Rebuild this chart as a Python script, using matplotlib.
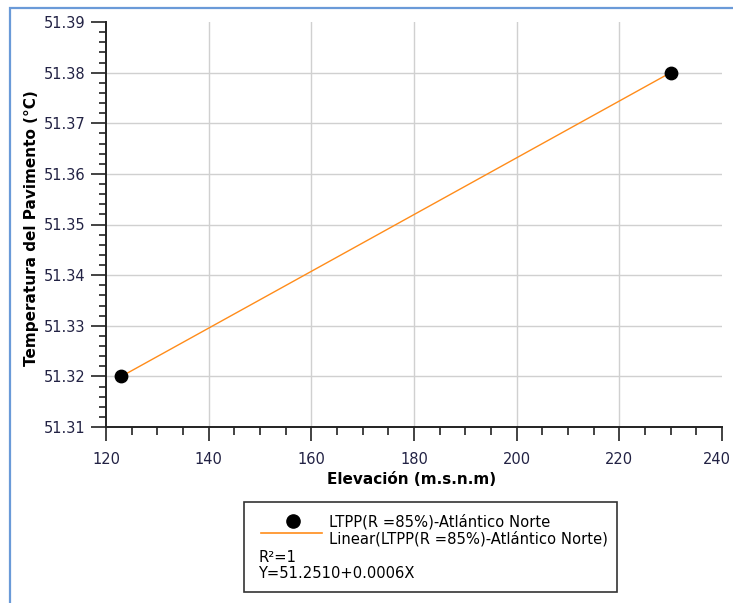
import matplotlib
matplotlib.use("Agg")
import matplotlib.pyplot as plt
import matplotlib.transforms as mtransforms
from matplotlib.patches import Rectangle
from matplotlib.lines import Line2D
from matplotlib.ticker import MultipleLocator

# datos
elevacion = [123, 230]
temperatura = [51.32, 51.38]
serie = "LTPP(R =85%)-Atlántico Norte"
ajuste = "Linear(LTPP(R =85%)-Atlántico Norte)"
r2_txt = "R²=1"
ecuacion = "Y=51.2510+0.0006X"

plt.rcParams['font.family'] = ['DejaVu Sans']

fig = plt.figure(figsize=(7.33, 6.03), dpi=100)
W, H = 733, 603

def fx(px):
    return px / W

def fy(py):
    return 1 - py / H

# borde azul del marco
fig.patches.append(Rectangle((fx(10), -0.1), 1.2, fy(8) + 0.1, transform=fig.transFigure,
                             fill=False, edgecolor='#6a9ad8', linewidth=1.6))

ax = fig.add_axes([fx(106), fy(427), fx(722) - fx(106), fy(22) - fy(427)])

ax.plot(elevacion, temperatura, color='#ff8c1a', linewidth=1.0, zorder=3)
ax.scatter(elevacion, temperatura, s=80, color='black', zorder=4)

ax.set_xlim(120, 240)
ax.set_ylim(51.31, 51.39)
ax.xaxis.set_major_locator(MultipleLocator(20))
ax.xaxis.set_minor_locator(MultipleLocator(5))
ax.yaxis.set_major_locator(MultipleLocator(0.01))
ax.yaxis.set_minor_locator(MultipleLocator(0.002))
ax.yaxis.set_major_formatter(plt.FuncFormatter(lambda v, p: f"{v:.2f}"))

ax.spines['top'].set_visible(False)
ax.spines['right'].set_visible(False)
for s in ['left', 'bottom']:
    ax.spines[s].set_linewidth(1.4)
    ax.spines[s].set_color('#222222')

ax.tick_params(axis='y', which='major', length=11, width=1.2, pad=4, labelsize=10.5,
               color='#222222', labelcolor='#222244')
ax.tick_params(axis='y', which='minor', length=5, width=1.2, color='#222222')
ax.tick_params(axis='x', which='major', length=10, width=1.2, pad=8, labelsize=10.5,
               color='#222222', labelcolor='#222244')
ax.tick_params(axis='x', which='minor', length=6, width=1.2, color='#222222')

ax.grid(True, which='major', color='#d0d0d0', linewidth=1.0)
ax.set_axisbelow(True)
fig.canvas.draw()
for t in ax.xaxis.get_major_ticks():
    if t.get_loc() <= 120 or t.get_loc() >= 240:
        t.gridline.set_visible(False)
    if t.get_loc() >= 240:
        # que el 240 no quede cortado en el borde
        lbl = t.label1
        lbl.set_transform(lbl.get_transform() +
                          mtransforms.ScaledTranslation(-5 / 100, 0, fig.dpi_scale_trans))
for t in ax.yaxis.get_major_ticks():
    if t.get_loc() <= 51.3101 or t.get_loc() >= 51.3899:
        t.gridline.set_visible(False)

fig.text(fx(412), fy(480), "Elevación (m.s.n.m)", ha='center', va='center',
         fontsize=11, fontweight='bold')
fig.text(fx(32), fy(228), "Temperatura del Pavimento (°C)", ha='center', va='center',
         rotation=90, fontsize=11, fontweight='bold')

# leyenda dibujada a mano
fig.patches.append(Rectangle((fx(244), fy(592)), fx(617) - fx(244), fy(502) - fy(592),
                             transform=fig.transFigure, fill=False,
                             edgecolor='#333333', linewidth=1.2))
fig.lines.append(Line2D([fx(293)], [fy(521)], transform=fig.transFigure, marker='o',
                        markersize=9.5, color='black', linestyle='none'))
fig.lines.append(Line2D([fx(261), fx(322)], [fy(533), fy(533)], transform=fig.transFigure,
                        color='#ff8c1a', linewidth=1.2))
fig.text(fx(329), fy(522), serie, ha='left', va='center', fontsize=10.6)
fig.text(fx(329), fy(539), ajuste, ha='left', va='center', fontsize=10.6)
fig.text(fx(258), fy(557), r2_txt, ha='left', va='center', fontsize=10.6)
fig.text(fx(258), fy(574), ecuacion, ha='left', va='center', fontsize=10.6)

fig.savefig("out.png", dpi=100)
